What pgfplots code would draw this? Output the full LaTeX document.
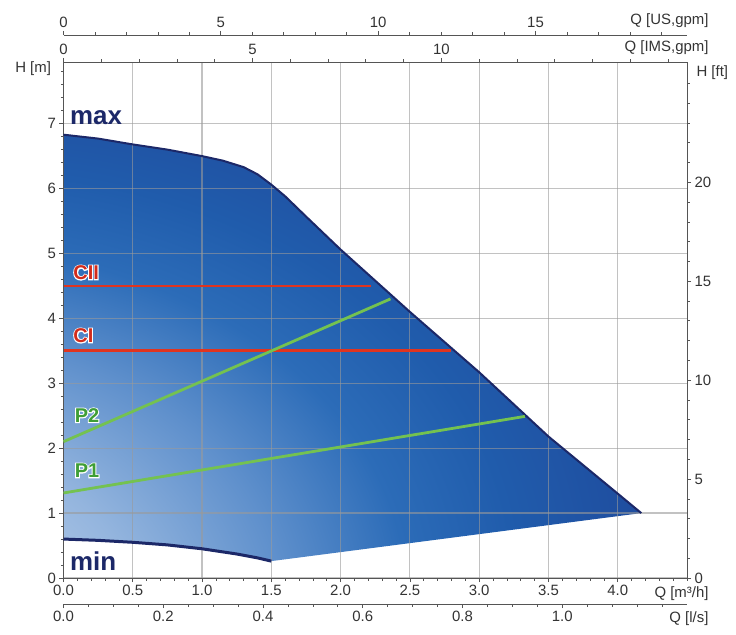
\documentclass[border=0pt]{standalone}
\usepackage{pgfplots}
\pgfplotsset{compat=1.18}
\usepackage{fontspec}
\setmainfont{Liberation Sans}
\newfontface\halofont{Liberation Sans Bold}[FakeBold=10]

\definecolor{txt}{HTML}{333333}
\definecolor{axc}{HTML}{555555}
\definecolor{gridc}{HTML}{9A9A9A}
\definecolor{navy}{HTML}{1C2868}
\definecolor{redl}{HTML}{E0341F}
\definecolor{redt}{HTML}{D22B1B}
\definecolor{greenl}{HTML}{74C250}
\definecolor{greent}{HTML}{3F9E36}
\definecolor{sh0}{HTML}{E8EFF8}
\definecolor{sh1}{HTML}{CADAEE}
\definecolor{sh2}{HTML}{94B5DE}
\definecolor{sh3}{HTML}{5F90CC}
\definecolor{sh4}{HTML}{2C6CB8}
\definecolor{sh5}{HTML}{205CAC}
\definecolor{sh6}{HTML}{1F4C9E}
\definecolor{sh7}{HTML}{223F92}
\definecolor{sh8}{HTML}{213A8A}

\pgfdeclareradialshading{pumpshade}{\pgfpoint{-50bp}{-40bp}}{%
  color(0bp)=(sh0); color(12bp)=(sh1); color(24bp)=(sh2); color(33bp)=(sh3);
  color(41bp)=(sh4); color(48bp)=(sh5); color(57bp)=(sh6); color(68bp)=(sh7);
  color(150bp)=(sh8)}

\newcommand\tickfont{\fontsize{15}{18}\selectfont}
% coloured bold label with a white halo behind it
\newcommand\halolabel[3]{%
  \node[anchor=base west, text=white, font=\fontsize{20}{20}\selectfont\halofont, inner sep=0pt] at (axis cs:#1) {#3};
  \node[anchor=base west, text=#2, font=\fontsize{20}{20}\selectfont\bfseries, inner sep=0pt] at (axis cs:#1) {#3};}

\pgfplotsset{
  pumpbase/.style={
    scale only axis, width=623.5bp, height=516bp,
    xmin=0, tick align=outside,
    major tick length=4bp, minor tick length=2.5bp,
    tick label style={font=\tickfont, text=txt},
    label style={font=\tickfont, text=txt},
    axis line style={draw=axc, line width=0.8bp},
    every tick/.style={draw=axc, line width=0.7bp},
    /pgf/number format/assume math mode=true,
  },
  onedec/.style={/pgf/number format/.cd, fixed, fixed zerofill, precision=1},
}

\begin{document}
\begin{tikzpicture}

% main axis: Q [m3/h] vs H [m]
\begin{axis}[pumpbase, name=main,
  xmax=4.5, ymin=0, ymax=7.95,
  axis on top,
  xtick={0,0.5,...,4}, minor xtick={0.1,0.2,...,4.45},
  ytick={0,1,...,7}, minor ytick={0.2,0.4,...,7.9},
  xtick pos=bottom, ytick pos=left,
  grid=major,
  major grid style={draw=gridc, line width=1.2bp, opacity=0.6},
  xticklabel style={onedec},
  xlabel={Q [m³/h]},
  xlabel style={at={(axis description cs:1,0)}, anchor=north east, xshift=25bp, yshift=-5bp},
  ylabel={H [m]},
  ylabel style={at={(axis description cs:0,1)}, rotate=-90, anchor=east, xshift=-9bp, yshift=-7bp},
]
\addplot[draw=none, shade, shading=pumpshade] coordinates {
  (0,6.83) (0.25,6.77) (0.5,6.68) (0.75,6.6) (1.0,6.5) (1.15,6.43) (1.3,6.33)
  (1.4,6.22) (1.5,6.06) (1.6,5.88) (1.75,5.57) (2.0,5.06)
  (2.25,4.58) (2.5,4.1) (3.0,3.17) (3.5,2.18) (4.0,1.3) (4.17,1.0)
  (1.5,0.26) (1.4,0.31) (1.25,0.37) (1.0,0.45) (0.75,0.51) (0.5,0.55)
  (0.25,0.58) (0,0.6)
} -- cycle;
\end{axis}

% curves and labels over the grid
\begin{axis}[scale only axis, width=623.5bp, height=516bp,
  xmin=0, xmax=4.5, ymin=0, ymax=7.95, hide axis, clip=false]
\addplot[navy, line width=2bp] coordinates {
  (0,6.83) (0.25,6.77) (0.5,6.68) (0.75,6.6) (1.0,6.5) (1.15,6.43) (1.3,6.33)
  (1.4,6.22) (1.5,6.06) (1.6,5.88) (1.75,5.57) (2.0,5.06)
  (2.25,4.58) (2.5,4.1) (3.0,3.17) (3.5,2.18) (4.0,1.3) (4.17,1.0)};
\addplot[navy, line width=3bp] coordinates {
  (0,0.6) (0.25,0.58) (0.5,0.55) (0.75,0.51) (1.0,0.45) (1.25,0.37) (1.4,0.31) (1.5,0.26)};
\addplot[redl, line width=2.8bp] coordinates {(0,4.5) (2.22,4.5)};
\addplot[redl, line width=2.8bp] coordinates {(0,3.5) (2.8,3.5)};
\addplot[greenl, line width=2.8bp] coordinates {(0,2.1) (2.36,4.3)};
\addplot[greenl, line width=2.8bp] coordinates {(0,1.31) (3.33,2.49)};

\node[anchor=base west, text=navy, font=\fontsize{26}{26}\selectfont\bfseries, inner sep=0pt] at (axis cs:0.047,6.99) {max};
\node[anchor=base west, text=navy, font=\fontsize{26}{26}\selectfont\bfseries, inner sep=0pt] at (axis cs:0.047,0.12) {min};
\halolabel{0.07,4.6}{redt}{CII}
\halolabel{0.07,3.63}{redt}{CI}
\halolabel{0.08,2.4}{greent}{P2}
\halolabel{0.08,1.55}{greent}{P1}
\end{axis}

% right axis: H [ft]
\begin{axis}[pumpbase,
  xmax=4.5, ymin=0, ymax=26.08,
  axis y line*=right, axis x line=none,
  ytick={0,5,...,20}, minor ytick={1,2,...,25},
  ylabel={H [ft]},
  ylabel style={at={(axis description cs:1,1)}, rotate=-90, anchor=west, xshift=6bp, yshift=-11bp},
]
\end{axis}

% top axis: Q [IMS,gpm]
\begin{axis}[pumpbase,
  xmax=16.498, ymin=0, ymax=1,
  axis x line*=top, axis y line=none,
  xtick={0,5,10}, minor xtick={1,2,...,16},
  xlabel={Q [IMS,gpm]},
  xlabel style={at={(axis description cs:1,1)}, anchor=south east, xshift=25bp, yshift=4bp},
]
\end{axis}

% top axis: Q [US,gpm]
\begin{axis}[pumpbase, at={(0bp,27bp)},
  xmax=19.813, ymin=0, ymax=1,
  axis x line*=top, axis y line=none,
  xtick={0,5,10,15}, minor xtick={1,2,...,19},
  xlabel={Q [US,gpm]},
  xlabel style={at={(axis description cs:1,1)}, anchor=south east, xshift=25bp, yshift=4bp},
]
\end{axis}

% bottom axis: Q [l/s]
\begin{axis}[pumpbase, at={(0bp,-26bp)},
  xmax=1.25, ymin=0, ymax=1,
  axis x line*=bottom, axis y line=none,
  xtick={0,0.2,...,1.0}, minor xtick={0.05,0.1,...,1.2},
  xticklabel style={onedec},
  xlabel={Q [l/s]},
  xlabel style={at={(axis description cs:1,0)}, anchor=north east, xshift=25bp, yshift=-4bp},
]
\end{axis}

\path (main.south west) ++(-63.5bp,-57bp) (main.north east) ++(49bp,62bp);
\end{tikzpicture}
\end{document}
